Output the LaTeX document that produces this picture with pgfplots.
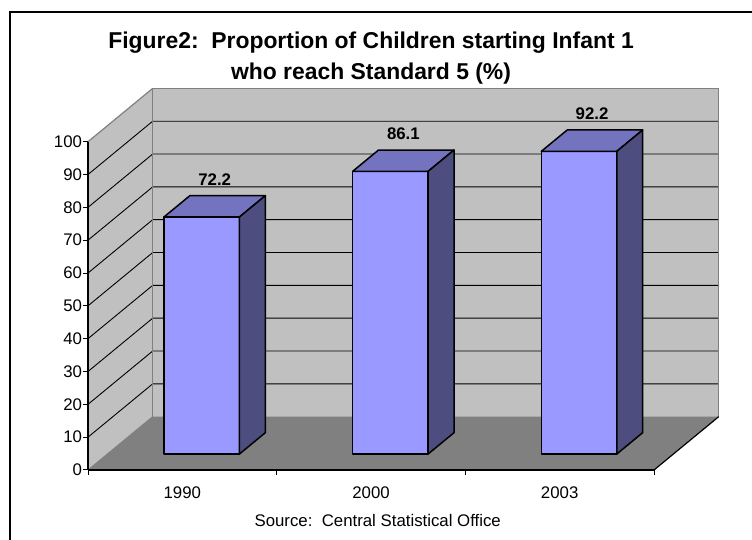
\documentclass[border=0pt]{standalone}
\usepackage{fontspec}
\setmainfont{Liberation Sans}
\usepackage{pgfplots}
\usepackage{pgfplotstable}
\pgfplotsset{compat=1.18}
\definecolor{wall}{HTML}{C0C0C0}
\definecolor{floorc}{HTML}{808080}
\definecolor{edgec}{HTML}{808080}
\definecolor{barfront}{HTML}{9999FF}
\definecolor{bartop}{HTML}{7373BF}
\definecolor{barside}{HTML}{4D4D80}

\pgfplotstableread{
x val
0 72.2
1 86.1
2 92.2
}\bardata

\def\DX{0.3429}
\def\DY{16.24}

\begin{document}
\begin{tikzpicture}[x=1bp,y=1bp]
\path[use as bounding box] (0,0) rectangle (752,540);
\draw[line width=1.3bp] (10,0) -- (10,528) -- (752,528);
\node[anchor=base, font=\bfseries\fontsize{22.9bp}{28bp}\selectfont] at (371,491.7) {Figure2:\ \ Proportion of Children starting Infant 1};
\node[anchor=base, font=\bfseries\fontsize{22.9bp}{28bp}\selectfont] at (371,460) {who reach Standard 5 (\%)};
\node[anchor=base, font=\fontsize{16.8bp}{19bp}\selectfont] at (377.7,13.3) {Source:\ \ Central Statistical Office};
\begin{axis}[
  at={(88bp,70bp)}, anchor=south west,
  scale only axis, width=566bp, height=328.3bp,
  xmin=0, xmax=3, ymin=0, ymax=100,
  clip=false,
  axis on top,
  axis lines*=left,
  axis line style={line width=1.2bp, black},
  xtick={0,1,2,3}, xticklabels={1990,2000,2003,},
  x tick label as interval,
  ytick={0,10,...,100},
  tick align=outside,
  major tick length=5bp,
  tick style={line width=1bp, black},
  ticklabel style={font=\fontsize{16.8bp}{19bp}\selectfont},
  xticklabel style={yshift=-8bp},
  yticklabel style={xshift=2.5bp},
  /pgf/number format/assume math mode=true,
]
% back wall
\fill[wall] (axis cs:\DX,\DY) rectangle (axis cs:3.3429,116.24);
% side wall
\fill[wall] (axis cs:0,0) -- (axis cs:0,100) -- (axis cs:\DX,116.24) -- (axis cs:\DX,\DY) -- cycle;
% floor
\fill[floorc] (axis cs:0,0) -- (axis cs:3,0) -- (axis cs:3.3429,\DY) -- (axis cs:\DX,\DY) -- cycle;
% grid lines
\pgfplotsinvokeforeach{10,20,...,90}{
  \draw[black, line width=0.9bp] (axis cs:0,#1) -- (axis cs:\DX,#1+\DY) -- (axis cs:3.3429,#1+\DY);
}
% wall edges
\draw[edgec, line width=1.5bp] (axis cs:\DX,\DY) -- (axis cs:\DX,116.24) -- (axis cs:3.3429,116.24) -- (axis cs:3.3429,\DY);
\draw[edgec, line width=1.2bp] (axis cs:0,100) -- (axis cs:\DX,116.24);
\draw[edgec, line width=1bp] (axis cs:0,0) -- (axis cs:\DX,\DY);
\draw[black, line width=1.2bp] (axis cs:3,0) -- (axis cs:3.3429,\DY);
% bars
\pgfplotsinvokeforeach{0,1,2}{
  \pgfplotstablegetelem{#1}{val}\of\bardata
  \pgfmathsetmacro\v{\pgfplotsretval}
  \pgfmathsetmacro\xa{#1+0.3+0.3*\DX}
  \pgfmathsetmacro\xb{#1+0.7+0.3*\DX}
  \pgfmathsetmacro\xc{#1+0.3+0.7*\DX}
  \pgfmathsetmacro\xd{#1+0.7+0.7*\DX}
  \pgfmathsetmacro\ya{0.3*\DY}
  \pgfmathsetmacro\yb{\v+0.3*\DY}
  \pgfmathsetmacro\yc{0.7*\DY}
  \pgfmathsetmacro\yd{\v+0.7*\DY}
  \edef\temp{%
    \noexpand\addplot[fill=barfront, draw=black, line width=1.5bp, line join=round] coordinates {(\xa,\ya) (\xb,\ya) (\xb,\yb) (\xa,\yb)} -- cycle;
    \noexpand\addplot[fill=bartop, draw=black, line width=1.5bp, line join=round] coordinates {(\xa,\yb) (\xb,\yb) (\xd,\yd) (\xc,\yd)} -- cycle;
    \noexpand\addplot[fill=barside, draw=black, line width=1.5bp, line join=round] coordinates {(\xb,\ya) (\xd,\yc) (\xd,\yd) (\xb,\yb)} -- cycle;
  }
  \temp
}
% value labels
\addplot[draw=none, nodes near coords, point meta=explicit symbolic,
  nodes near coords style={font=\bfseries\fontsize{16.8bp}{19bp}\selectfont, anchor=center, yshift=26.5bp}]
  table[x expr=\thisrow{x}+0.5+0.5*\DX, y expr=\thisrow{val}+0.5*\DY, meta=val]{\bardata};
\end{axis}
\end{tikzpicture}
\end{document}
